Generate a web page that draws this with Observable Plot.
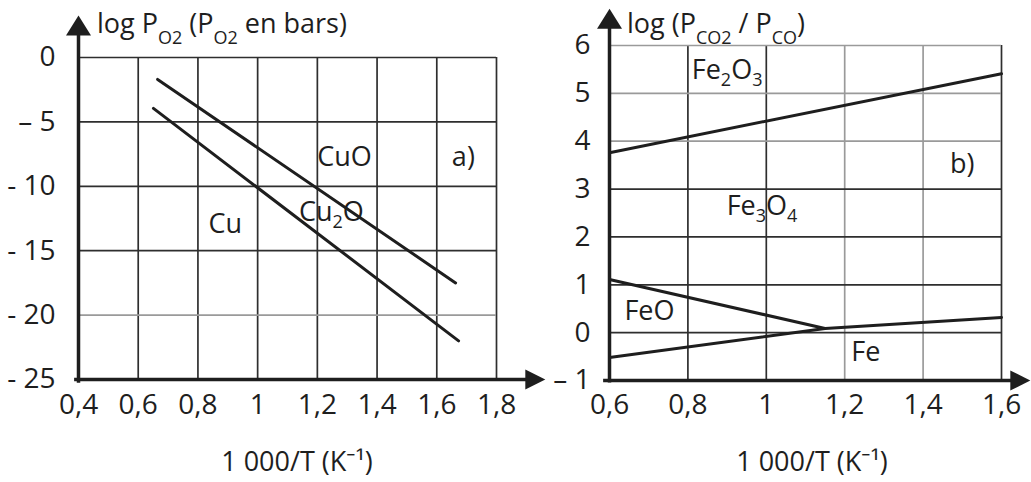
<!DOCTYPE html>
<html><head><meta charset="utf-8">
<script src="https://cdn.jsdelivr.net/npm/d3@7"></script>
<script src="https://cdn.jsdelivr.net/npm/@observablehq/plot@0.6"></script>
<style>
body{margin:0;background:#fff;width:1031px;height:482px;overflow:hidden;position:relative;font-family:"Open Sans",sans-serif}
#a,#b{position:absolute;top:0}
#a{left:0}#b{left:520px}
</style></head><body><div id="a"></div><div id="b"></div>
<script>
// ---------- Chart a) : Cu / Cu2O / CuO ----------
const cuXTicks = [0.4, 0.6, 0.8, 1.0, 1.2, 1.4, 1.6, 1.8];
const cuXTickLabels = ["0,4", "0,6", "0,8", "1", "1,2", "1,4", "1,6", "1,8"];
const cuYTicks = [0, -5, -10, -15, -20, -25];
const cuYTickLabels = ["0", "– 5", "- 10", "- 15", "- 20", "- 25"];
const cuOCu2OLine = [{x: 0.665, y: -1.7}, {x: 1.663, y: -17.5}];
const cu2OCuLine = [{x: 0.651, y: -3.95}, {x: 1.673, y: -22.0}];
const cuLabels = [
  {x: 1.291, y: -7.76, text: "CuO"},
  {x: 1.689, y: -7.76, text: "a)"},
  {x: 0.892, y: -12.97, text: "Cu"},
  {x: 1.247, y: -12.03, text: "Cu₂O"}
];

// ---------- Chart b) : Fe / FeO / Fe3O4 / Fe2O3 ----------
const feXTicks = [0.6, 0.8, 1.0, 1.2, 1.4, 1.6];
const feXTickLabels = ["0,6", "0,8", "1", "1,2", "1,4", "1,6"];
const feYTicks = [6, 5, 4, 3, 2, 1, 0, -1];
const feYTickLabels = ["6", "5", "4", "3", "2", "1", "0", "– 1"];
const fe2O3Fe3O4Line = [{x: 0.6, y: 3.76}, {x: 1.6, y: 5.41}];
const fe3O4FeOLine = [{x: 0.6, y: 1.11}, {x: 1.15, y: 0.087}];
const feBottomLine = [{x: 0.6, y: -0.52}, {x: 1.15, y: 0.087}, {x: 1.6, y: 0.317}];
const feLabels = [
  {x: 0.90, y: 5.48, text: "Fe₂O₃"},
  {x: 1.50, y: 3.51, text: "b)"},
  {x: 0.989, y: 2.64, text: "Fe₃O₄"},
  {x: 0.702, y: 0.44, text: "FeO"},
  {x: 1.254, y: -0.41, text: "Fe"}
];

const FONT = '"Open Sans", "Noto Sans", sans-serif';
const INK = "#1e1e1e";
const GRID = "#2e2e2e";
const LIGHT = "#9a9a9a";
const SUBS = {"₂": "2", "₃": "3", "₄": "4"};
const TICK_SIZE = 28;

const triUp = {draw(c) { c.moveTo(0, -10); c.lineTo(12.5, 10); c.lineTo(-12.5, 10); c.closePath(); }};
const triRight = {draw(c) { c.moveTo(10, 0); c.lineTo(-10, -10); c.lineTo(-10, 10); c.closePath(); }};

function lookup(ticks, labels) {
  const m = new Map(ticks.map((t, i) => [String(t), labels[i]]));
  return d => m.get(String(d)) ?? "";
}

function addText(svg, x, y, parts, size, anchor = "start") {
  const t = d3.select(svg).append("text")
    .attr("x", x).attr("y", y)
    .attr("font-size", size).attr("fill", INK)
    .attr("font-family", FONT)
    .attr("text-anchor", anchor);
  fillParts(t, parts);
}
function fillParts(t, parts) {
  let pending = 0;
  for (const p of parts) {
    if (typeof p === "string") {
      const s = t.append("tspan").text(p);
      if (pending) s.attr("dy", pending);
      pending = 0;
    } else {
      t.append("tspan").attr("font-size", p.size).attr("dy", p.dy + pending).text(p.sub);
      pending = -p.dy;
    }
  }
}
function fixSubscripts(svg) {
  d3.select(svg).selectAll("text").each(function() {
    const el = d3.select(this);
    if (el.selectAll("tspan").size() > 0) return;
    const s = this.textContent;
    if (!/[₂₃₄]/.test(s)) return;
    const parts = [];
    let buf = "";
    for (const ch of s) {
      if (SUBS[ch]) { if (buf) parts.push(buf); buf = ""; parts.push({sub: SUBS[ch], size: 18, dy: 7}); }
      else buf += ch;
    }
    if (buf) parts.push(buf);
    el.text(null);
    fillParts(el, parts);
  });
}

// ----- Plot a) -----
const lightA = new Set([-20]);
const plotA = Plot.plot({
  width: 550, height: 482,
  marginLeft: 78, marginRight: 54, marginTop: 57, marginBottom: 103,
  x: {domain: [0.4, 1.8]},
  y: {domain: [-25, 0]},
  style: {background: "transparent", overflow: "visible", fontFamily: FONT, fontSize: "27px", color: INK},
  marks: [
    Plot.ruleX(cuXTicks.slice(1), {y1: -25, y2: 0, stroke: GRID, strokeWidth: 1.7}),
    Plot.ruleY(cuYTicks.slice(0, -1), {x1: 0.4, x2: 1.8, stroke: d => lightA.has(d) ? LIGHT : GRID, strokeWidth: 1.7}),
    Plot.line(cuOCu2OLine, {x: "x", y: "y", stroke: INK, strokeWidth: 3}),
    Plot.line(cu2OCuLine, {x: "x", y: "y", stroke: INK, strokeWidth: 3}),
    Plot.ruleX([0.4], {y1: -25.3, y2: 1.8, stroke: INK, strokeWidth: 3.5}),
    Plot.ruleY([-25], {x1: 0.387, x2: 1.93, stroke: INK, strokeWidth: 3.5}),
    Plot.dot([{x: 0.4, y: 2.48}], {x: "x", y: "y", symbol: triUp, fill: INK, stroke: null}),
    Plot.dot([{x: 1.93, y: -25}], {x: "x", y: "y", symbol: triRight, fill: INK, stroke: null}),
    Plot.axisX({ticks: cuXTicks, tickFormat: lookup(cuXTicks, cuXTickLabels), tickSize: 0, tickPadding: 15, label: null, fill: INK, fontSize: TICK_SIZE}),
    Plot.axisY({ticks: cuYTicks, tickFormat: lookup(cuYTicks, cuYTickLabels), tickSize: 0, tickPadding: 23, label: null, fill: INK, fontSize: TICK_SIZE}),
    Plot.text(cuLabels, {x: "x", y: "y", text: "text", fill: INK, fontSize: 27})
  ]
});
document.getElementById("a").appendChild(plotA);
fixSubscripts(plotA);
addText(plotA, 97, 33, ["log P", {sub: "O2", size: 18, dy: 11}, " (P", {sub: "O2", size: 18, dy: 11}, " en bars)"], 27);
addText(plotA, 297, 471, ["1 000/T (K⁻¹)"], 27, "middle");

// ----- Plot b) -----
const lightBX = new Set([1.2, 1.4]);
const lightBY = new Set([6, 5, 4]);
const plotB = Plot.plot({
  width: 511, height: 482,
  marginLeft: 89, marginRight: 30, marginTop: 45, marginBottom: 102,
  x: {domain: [0.6, 1.6]},
  y: {domain: [-1, 6]},
  style: {background: "transparent", overflow: "visible", fontFamily: FONT, fontSize: "27px", color: INK},
  marks: [
    Plot.ruleX(feXTicks.slice(1), {y1: -1, y2: 6, stroke: d => lightBX.has(d) ? LIGHT : GRID, strokeWidth: 1.7}),
    Plot.ruleY(feYTicks.slice(0, -1), {x1: 0.6, x2: 1.6, stroke: d => lightBY.has(d) ? LIGHT : GRID, strokeWidth: 1.7}),
    Plot.line(fe2O3Fe3O4Line, {x: "x", y: "y", stroke: INK, strokeWidth: 3}),
    Plot.line(fe3O4FeOLine, {x: "x", y: "y", stroke: INK, strokeWidth: 3}),
    Plot.line(feBottomLine, {x: "x", y: "y", stroke: INK, strokeWidth: 3}),
    Plot.ruleX([0.6], {y1: -1.05, y2: 6.4, stroke: INK, strokeWidth: 3.5}),
    Plot.ruleY([-1], {x1: 0.585, x2: 1.645, stroke: INK, strokeWidth: 3.5}),
    Plot.dot([{x: 0.6, y: 6.56}], {x: "x", y: "y", symbol: triUp, fill: INK, stroke: null}),
    Plot.dot([{x: 1.648, y: -1}], {x: "x", y: "y", symbol: triRight, fill: INK, stroke: null}),
    Plot.axisX({ticks: feXTicks, tickFormat: lookup(feXTicks, feXTickLabels), tickSize: 0, tickPadding: 14, label: null, fill: INK, fontSize: TICK_SIZE}),
    Plot.axisY({ticks: feYTicks, tickFormat: lookup(feYTicks, feYTickLabels), tickSize: 0, tickPadding: 19, label: null, fill: INK, fontSize: TICK_SIZE}),
    Plot.text(feLabels, {x: "x", y: "y", text: "text", fill: INK, fontSize: 27})
  ]
});
document.getElementById("b").appendChild(plotB);
fixSubscripts(plotB);
addText(plotB, 107, 33, ["log (P", {sub: "CO2", size: 18, dy: 11}, " / P", {sub: "CO", size: 18, dy: 11}, ")"], 27);
addText(plotB, 292, 471, ["1 000/T (K⁻¹)"], 27, "middle");
</script></body></html>
